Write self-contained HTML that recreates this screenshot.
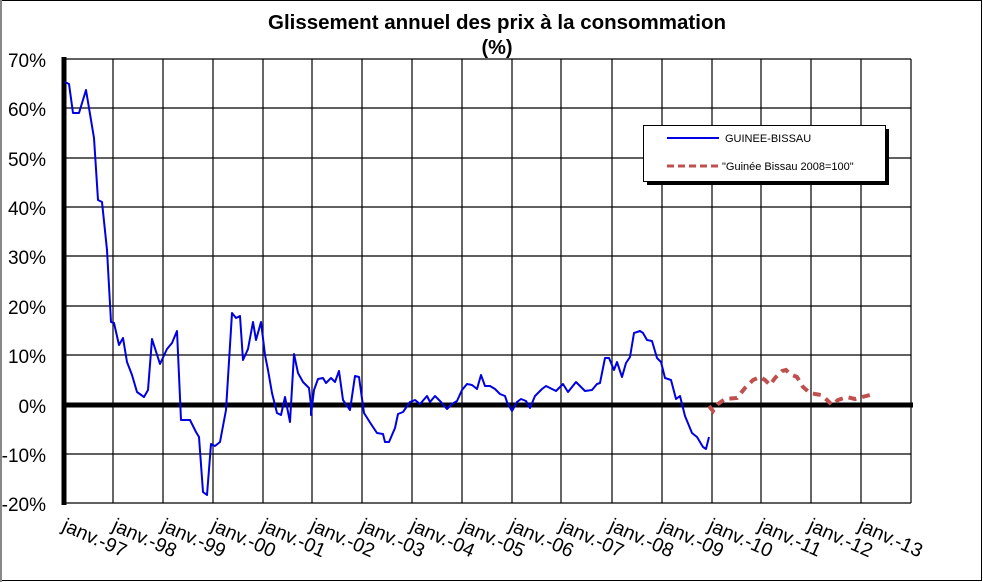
<!DOCTYPE html>
<html><head><meta charset="utf-8"><style>
body{margin:0;background:#fff;}
svg{display:block;font-family:"Liberation Sans",Arial,sans-serif;}
</style></head><body>
<svg width="983" height="582" viewBox="0 0 983 582">
<rect x="0.5" y="0.5" width="981" height="580" fill="#fff" stroke="#000" stroke-width="1"/>
<line x1="1" y1="0" x2="1" y2="582" stroke="#888" stroke-width="2"/>
<text x="497" y="29" font-size="20.5" font-weight="bold" text-anchor="middle">Glissement annuel des prix à la consommation</text>
<text x="497" y="54" font-size="20" font-weight="bold" text-anchor="middle">(%)</text>
<g stroke="#000" stroke-width="1.2">
<line x1="65" y1="59" x2="911" y2="59"/><line x1="65" y1="108" x2="911" y2="108"/>
<line x1="65" y1="158" x2="911" y2="158"/><line x1="65" y1="207" x2="911" y2="207"/>
<line x1="65" y1="256" x2="911" y2="256"/><line x1="65" y1="306" x2="911" y2="306"/>
<line x1="65" y1="355" x2="911" y2="355"/><line x1="65" y1="454" x2="911" y2="454"/>
<line x1="65" y1="503" x2="911" y2="503"/>
<line x1="113" y1="59" x2="113" y2="503"/><line x1="163" y1="59" x2="163" y2="503"/>
<line x1="213" y1="59" x2="213" y2="503"/><line x1="263" y1="59" x2="263" y2="503"/>
<line x1="312" y1="59" x2="312" y2="503"/><line x1="362" y1="59" x2="362" y2="503"/>
<line x1="412" y1="59" x2="412" y2="503"/><line x1="462" y1="59" x2="462" y2="503"/>
<line x1="512" y1="59" x2="512" y2="503"/><line x1="561" y1="59" x2="561" y2="503"/>
<line x1="612" y1="59" x2="612" y2="503"/><line x1="662" y1="59" x2="662" y2="503"/>
<line x1="712" y1="59" x2="712" y2="503"/><line x1="761" y1="59" x2="761" y2="503"/>
<line x1="811" y1="59" x2="811" y2="503"/><line x1="861" y1="59" x2="861" y2="503"/>
<line x1="911" y1="59" x2="911" y2="503"/>
</g>
<line x1="64" y1="57" x2="64" y2="505" stroke="#000" stroke-width="5"/>
<line x1="62" y1="405" x2="913" y2="405" stroke="#000" stroke-width="5"/>
<g font-size="19" text-anchor="end">
<text x="46" y="67">70%</text><text x="46" y="116">60%</text><text x="46" y="166">50%</text>
<text x="46" y="215">40%</text><text x="46" y="264">30%</text><text x="46" y="314">20%</text>
<text x="46" y="363">10%</text><text x="46" y="413">0%</text><text x="46" y="462">-10%</text>
<text x="46" y="511">-20%</text>
</g>
<g font-size="19.5">
<text transform="translate(61,530) rotate(24)">janv.-97</text>
<text transform="translate(111,530) rotate(24)">janv.-98</text>
<text transform="translate(160,530) rotate(24)">janv.-99</text>
<text transform="translate(210,530) rotate(24)">janv.-00</text>
<text transform="translate(260,530) rotate(24)">janv.-01</text>
<text transform="translate(309,530) rotate(24)">janv.-02</text>
<text transform="translate(359,530) rotate(24)">janv.-03</text>
<text transform="translate(409,530) rotate(24)">janv.-04</text>
<text transform="translate(459,530) rotate(24)">janv.-05</text>
<text transform="translate(508,530) rotate(24)">janv.-06</text>
<text transform="translate(558,530) rotate(24)">janv.-07</text>
<text transform="translate(608,530) rotate(24)">janv.-08</text>
<text transform="translate(658,530) rotate(24)">janv.-09</text>
<text transform="translate(707,530) rotate(24)">janv.-10</text>
<text transform="translate(757,530) rotate(24)">janv.-11</text>
<text transform="translate(807,530) rotate(24)">janv.-12</text>
<text transform="translate(857,530) rotate(24)">janv.-13</text>
</g>
<polyline fill="none" stroke="#0000e0" stroke-width="2" stroke-linejoin="round" points="65,82 69,84 73,113 79,113 86,90 94,138 98,200 102,202 107,250 111,322 114,323 119,345 123,338 127,362 132,375 137,392 144,397 148,390 152,339 160,364 167,349 172,343 177,331 181,420 190,420 196,432 199,437 203,492 207,495 211,444 215,446 220,442 226,410 232,313 236,318 240,316 243,360 248,349 253,322 256,340 261,322 265,355 268,370 272,393 277,413 281,415 285,397 288,412 290,422 294,354 298,373 303,382 309,388 311,405 311,415 314,390 318,379 323,378 326,383 331,378 335,382 339,371 343,400 350,410 355,376 359,377 364,413 371,424 377,433 383,434 385,442 389,442 395,428 398,414 403,412 410,402 415,400 420,404 427,396 430,402 435,396 441,402 447,409 452,404 457,401 462,390 467,384 472,385 477,389 481,375 485,386 490,386 495,389 500,394 505,396 507,402 512,411 517,402 521,399 526,401 530,408 535,396 542,389 546,386 550,388 556,391 563,384 568,392 576,382 585,391 592,390 597,384 600,383 605,358 609,358 614,370 617,362 622,377 626,363 630,357 634,333 640,331 643,333 647,340 652,341 657,358 661,362 665,378 671,380 676,399 680,396 685,416 692,433 697,437 703,447 706,449 709,437"/>
<polyline fill="none" stroke="#c0504d" stroke-width="4" stroke-dasharray="8,6" points="709,406 713,411 718,404 725,399 737,398 745,388 753,380 760,377 765,380 770,385 775,378 782,371 786,370 790,374 797,377 803,387 810,393 815,394 821,395 827,400 832,405 838,400 847,397 855,399 866,396 870,395"/>
<rect x="647" y="129" width="242" height="56" fill="#000"/>
<rect x="643.5" y="125.5" width="242" height="56" fill="#fff" stroke="#000" stroke-width="1"/>
<line x1="667" y1="138" x2="719" y2="138" stroke="#0000e0" stroke-width="2"/>
<text x="725" y="142" font-size="11">GUINEE-BISSAU</text>
<line x1="667" y1="166" x2="719" y2="166" stroke="#c0504d" stroke-width="3" stroke-dasharray="7,4"/>
<text x="722" y="170" font-size="11">"Guinée Bissau 2008=100"</text>
</svg>
</body></html>
